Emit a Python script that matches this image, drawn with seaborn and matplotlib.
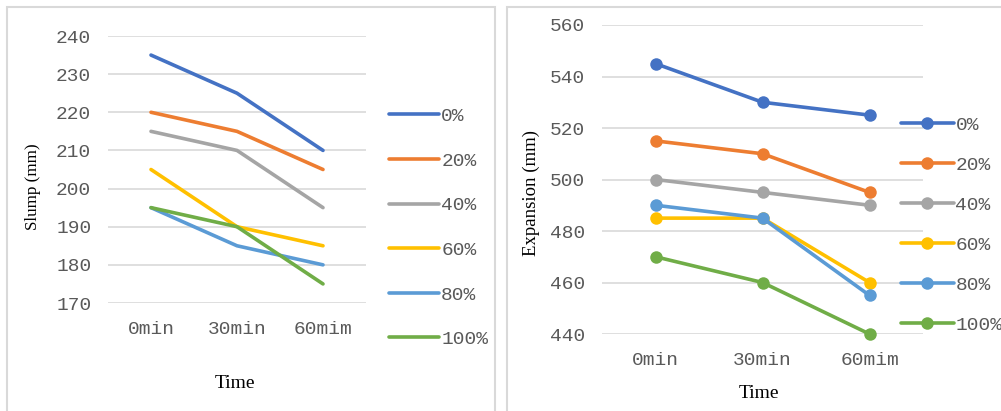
import numpy as np
import pandas as pd
import seaborn as sns
import matplotlib.pyplot as plt
from matplotlib.patches import Rectangle

# ----- data -----
times = ["0min", "30min", "60mim"]
groups = ["0%", "20%", "40%", "60%", "80%", "100%"]
colors = ["#4472C4", "#ED7D31", "#A5A5A5", "#FFC000", "#5B9BD5", "#70AD47"]

slump_0 = [235, 225, 210]
slump_20 = [220, 215, 205]
slump_40 = [215, 210, 195]
slump_60 = [205, 190, 185]
slump_80 = [195, 185, 180]
slump_100 = [195, 190, 175]

exp_0 = [545, 530, 525]
exp_20 = [515, 510, 495]
exp_40 = [500, 495, 490]
exp_60 = [485, 485, 460]
exp_80 = [490, 485, 455]
exp_100 = [470, 460, 440]

slump = [slump_0, slump_20, slump_40, slump_60, slump_80, slump_100]
expansion = [exp_0, exp_20, exp_40, exp_60, exp_80, exp_100]


def to_long(series):
    rows = []
    for g, vals in zip(groups, series):
        for t, v in zip(times, vals):
            rows.append({"Time": t, "Group": g, "Value": v})
    return pd.DataFrame(rows)


sns.set_style("white")
tick_font = "Liberation Mono"
label_font = "Liberation Serif"
grey_txt = "#595959"
grid_c = "#D9D9D9"

fig = plt.figure(figsize=(10.01, 4.11), dpi=100)

# panel frames
fig.patches.append(Rectangle((7 / 1001, -0.05), 488 / 1001, 1 - 7 / 411 + 0.05,
                             transform=fig.transFigure, fill=False,
                             edgecolor=grid_c, linewidth=1.5))
fig.patches.append(Rectangle((507 / 1001, -0.05), 0.6, 1 - 7 / 411 + 0.05,
                             transform=fig.transFigure, fill=False,
                             edgecolor=grid_c, linewidth=1.5))


def style_axis(ax, ylim, yticks, ylabel, ysize):
    ax.set_xlim(-0.5, 2.5)
    ax.set_ylim(*ylim)
    ax.set_yticks(yticks)
    ax.yaxis.grid(True, color=grid_c, linewidth=1.2)
    ax.set_axisbelow(True)
    for s in ax.spines.values():
        s.set_visible(False)
    for ln in ax.lines:
        ln.set_clip_on(False)
    ax.tick_params(length=0, labelsize=14, labelcolor=grey_txt)
    ax.tick_params(axis="y", pad=12)
    ax.tick_params(axis="x", pad=13)
    for lbl in ax.get_xticklabels() + ax.get_yticklabels():
        lbl.set_fontfamily(tick_font)
    ax.set_ylabel(ylabel, fontfamily=label_font, fontsize=ysize, color="black")
    ax.set_xlabel("Time", fontfamily=label_font, fontsize=14, color="black")


# ----- left: slump -----
ax1 = fig.add_axes([108 / 1001, 1 - 303 / 411, 258 / 1001, 267 / 411])
sns.lineplot(data=to_long(slump), x="Time", y="Value", hue="Group",
             palette=colors, linewidth=2.6, sort=False, ax=ax1)
style_axis(ax1, (170, 240), range(170, 241, 10), "Slump (mm)", 12.3)
ax1.yaxis.set_label_coords(-0.26, 0.434)
ax1.xaxis.set_label_coords(0.492, -0.27)
leg1 = ax1.legend(loc="upper left", bbox_to_anchor=(1.02, 0.798), frameon=False,
                  handlelength=2.6, handletextpad=0.1, labelspacing=1.39,
                  prop={"family": tick_font, "size": 14})
for t in leg1.get_texts():
    t.set_color(grey_txt)

# ----- right: expansion -----
ax2 = fig.add_axes([602 / 1001, 1 - 334 / 411, 321 / 1001, 309 / 411])
sns.lineplot(data=to_long(expansion), x="Time", y="Value", hue="Group",
             palette=colors, linewidth=2.6, sort=False, marker="o",
             markersize=9, markeredgewidth=0, ax=ax2)
style_axis(ax2, (440, 560), range(440, 561, 20), "Expansion (mm)", 13.5)
ax2.yaxis.set_label_coords(-0.193, 0.456)
ax2.xaxis.set_label_coords(0.489, -0.165)
leg2 = ax2.legend(loc="upper left", bbox_to_anchor=(0.877, 0.762), frameon=False,
                  handlelength=2.7, handletextpad=0.1, labelspacing=1.15,
                  prop={"family": tick_font, "size": 14})
for t in leg2.get_texts():
    t.set_color(grey_txt)

fig.savefig("out.png", dpi=100)
